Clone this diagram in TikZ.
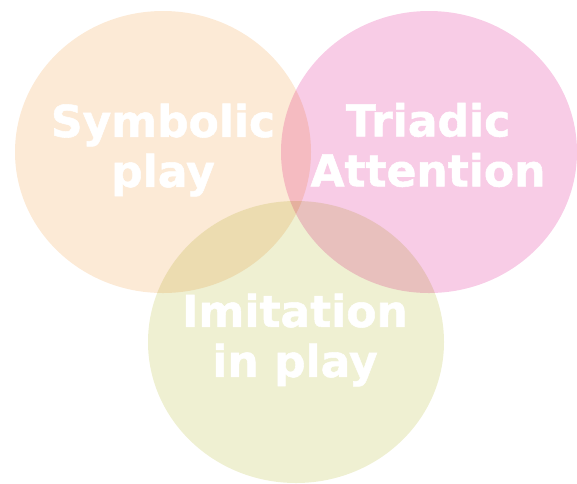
\documentclass[tikz,border=0pt]{standalone}
\usepackage{fontspec}
\setmainfont{DejaVu Sans}
\newfontfamily\venfont{DejaVu Sans Bold}[FakeBold=1.2]
\definecolor{csym}{HTML}{FCEAD6}
\definecolor{ctri}{HTML}{F8CCE6}
\definecolor{cimi}{HTML}{EFF0D2}
\tikzset{
  setshape/.style={fill=#1, draw=none},
  setlabel/.style={text=white, font=\venfont\fontsize{44}{50}\selectfont, align=center, inner sep=0pt}
}
\begin{document}
\begin{tikzpicture}[x=1pt,y=-1pt]
\useasboundingbox (0,0) rectangle (577,483);
\begin{scope}[blend group=multiply]
  \path[setshape=csym] (163,152) ellipse [x radius=148, y radius=141];
  \path[setshape=ctri] (429,152) ellipse [x radius=148, y radius=141];
  \path[setshape=cimi] (296,342) ellipse [x radius=148, y radius=141];
\end{scope}
\node[setlabel] (sym) at (163,150) {Symbolic\\play};
\node[setlabel] (tri) at (428,145) {Triadic\\Attention};
\node[setlabel] (imi) at (295,340) {Imitation\\in play};
\end{tikzpicture}
\end{document}
